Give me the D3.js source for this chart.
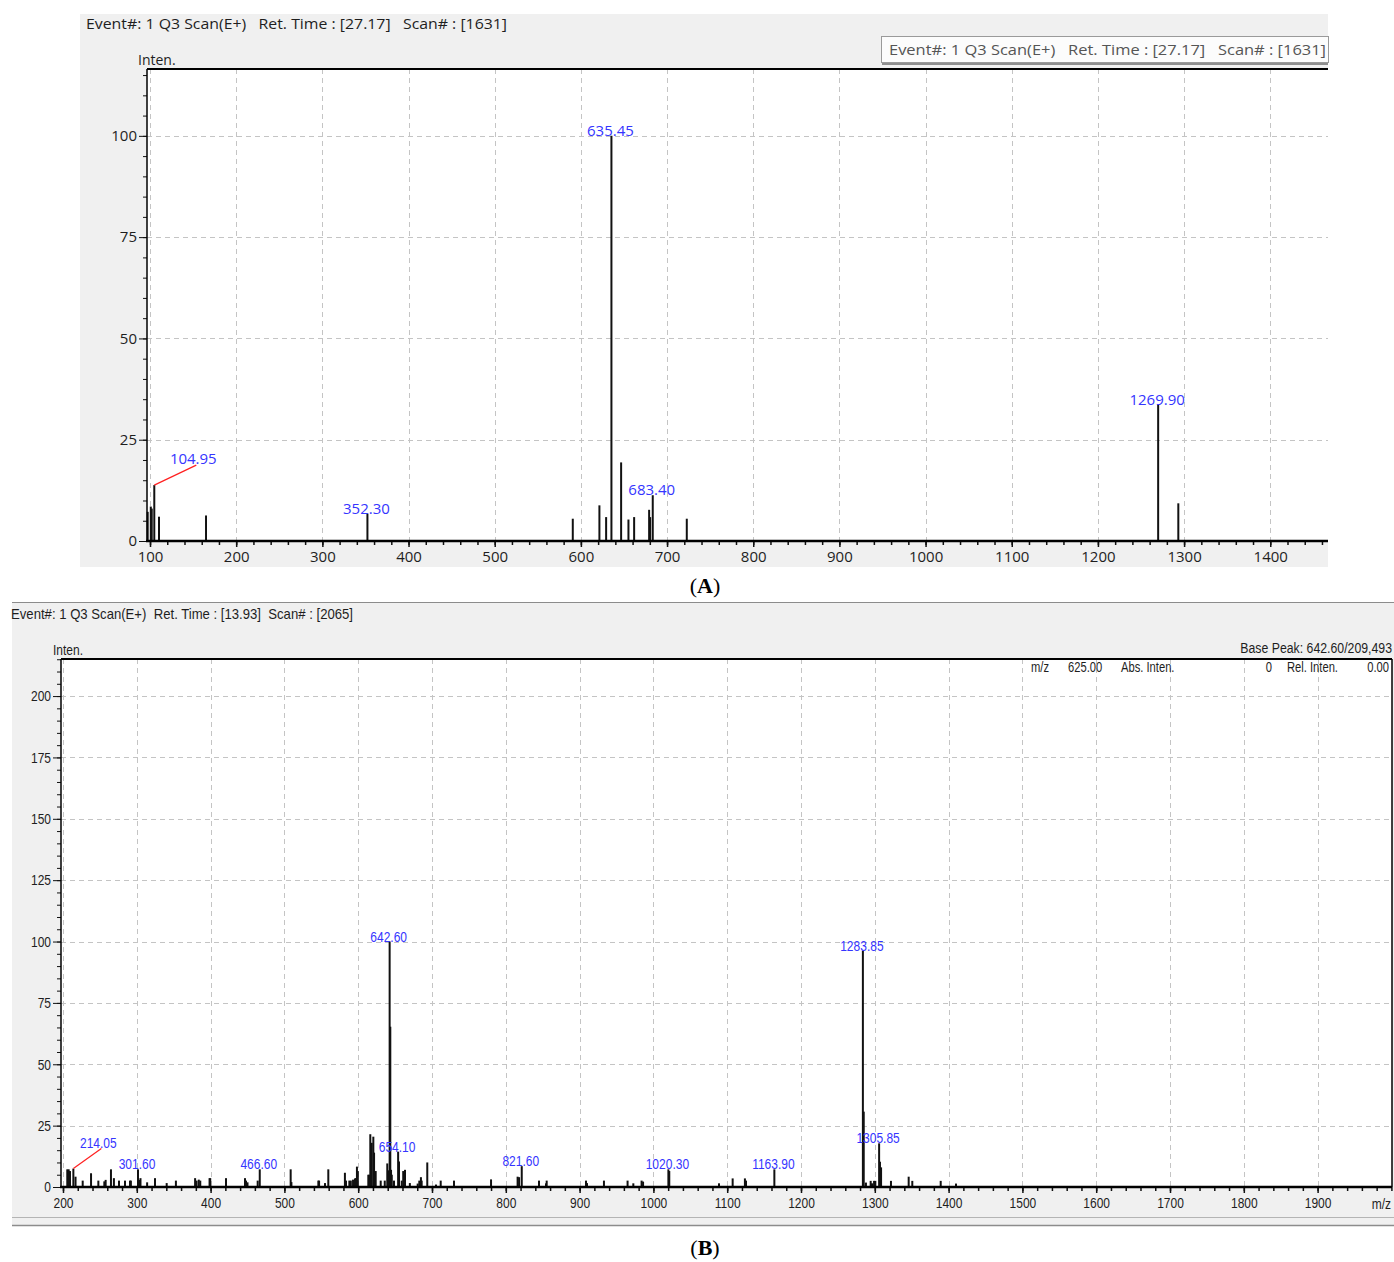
<!DOCTYPE html>
<html>
<head>
<meta charset="utf-8">
<script src="https://cdn.jsdelivr.net/npm/d3@7"></script>
<style>
  body { margin: 0; background: #fff; }
  svg { display: block; }
  svg text { white-space: pre; }
</style>
</head>
<body>
<svg id="chart" width="1394" height="1262"></svg>
<script>
// ---- panel A : spectrum at 27.17 min
const mzA = [97.3, 100.9, 102.0, 104.95, 110.4, 165.0, 352.30, 590.6, 621.5, 629.3, 635.45,
  646.7, 655.2, 661.8, 679.2, 680.4, 683.40, 722.9, 1269.90, 1293.3];
const intA = [7.2, 8.5, 8.0, 13.8, 6.0, 6.3, 6.7, 5.5, 8.8, 5.9, 100,
  19.4, 5.3, 5.9, 7.7, 5.9, 11.3, 5.5, 33.6, 9.3];
const labelsA = [104.95, 352.30, 635.45, 683.40, 1269.90];
const xTicksA = [100, 200, 300, 400, 500, 600, 700, 800, 900, 1000, 1100, 1200, 1300, 1400];
const yTicksA = [0, 25, 50, 75, 100];

// ---- panel B : spectrum at 13.93 min
const mzB = [205.8, 207.7, 209.5, 214.05, 217.0, 226.7, 238.0, 247.9, 256.0, 257.8, 265.0, 269.0,
  275.9, 284.0, 290.8, 292.0, 301.60, 303.0, 305.0, 314.0, 324.7, 340.5, 353.0, 379.0, 381.0,
  384.0, 386.0, 398.6, 399.5, 420.9, 446.6, 448.0, 450.0, 463.8, 466.60, 508.5, 509.5, 546.0,
  547.0, 555.0, 559.5, 582.0, 583.5, 588.0, 590.0, 593.0, 595.7, 597.0, 598.3, 599.5, 613.7,
  615.0, 616.4, 618.3, 620.5, 621.5, 623.7, 630.5, 636.0, 639.4, 640.5, 642.60, 643.5, 644.5,
  645.5, 648.5, 654.10, 655.3, 659.0, 661.0, 663.4, 670.0, 680.6, 682.8, 685.0, 686.0, 693.6,
  705.4, 711.8, 729.8, 780.0, 816.0, 818.0, 821.60, 845.0, 854.5, 855.4, 908.7, 910.0, 933.0,
  965.0, 972.8, 984.0, 986.0, 1020.30, 1021.5, 1088.9, 1107.4, 1124.0, 1125.5, 1163.90,
  1283.85, 1285.0, 1288.0, 1294.4, 1296.2, 1299.0, 1300.7, 1305.85, 1307.0, 1308.5, 1321.9,
  1345.9, 1350.8, 1389.3, 1410.0];
const intB = [7.2, 7.2, 6.5, 7.5, 4.2, 2.6, 5.6, 2.6, 2.3, 2.9, 7.2, 3.6,
  2.6, 2.6, 2.6, 2.6, 7.2, 2.9, 3.6, 1.9, 3.6, 1.6, 2.6, 3.6, 2.6,
  3.0, 2.6, 3.6, 3.6, 3.6, 3.6, 2.6, 1.9, 2.6, 7.2, 7.2, 2.0, 2.6,
  2.6, 1.6, 7.2, 5.8, 2.6, 2.6, 2.6, 3.0, 3.5, 3.6, 8.3, 6.5, 5.0,
  5.0, 21.5, 18.0, 20.5, 14.0, 6.5, 2.6, 2.6, 9.6, 6.8, 100, 65.3, 7.0,
  5.0, 2.6, 14.4, 10.4, 2.6, 6.5, 7.0, 1.6, 1.4, 2.6, 4.0, 2.6, 10.0,
  1.0, 2.6, 2.6, 3.1, 4.2, 4.0, 8.5, 2.6, 1.5, 2.6, 2.6, 1.6, 2.6,
  2.6, 1.5, 2.6, 2.2, 7.2, 6.5, 1.5, 3.5, 3.5, 2.6, 7.2,
  96.3, 30.7, 1.8, 2.5, 1.5, 2.5, 2.5, 17.8, 10.3, 8.0, 2.5,
  4.2, 2.5, 2.5, 1.4];
const labelsB = [214.05, 301.60, 466.60, 642.60, 654.10, 821.60, 1020.30, 1163.90, 1283.85, 1305.85];
const xTicksB = [200, 300, 400, 500, 600, 700, 800, 900, 1000, 1100, 1200, 1300, 1400, 1500,
  1600, 1700, 1800, 1900];
const yTicksB = [0, 25, 50, 75, 100, 125, 150, 175, 200];

const svg = d3.select('#chart');

function txt(g, x, y, s, o) {
  const t = g.append('text')
    .attr('transform', `translate(${x},${y}) scale(${o.sx || 1},1)`)
    .attr('text-anchor', o.anchor || 'start')
    .style('font-family', o.font)
    .style('font-size', o.size + 'px')
    .attr('fill', o.fill || '#1e1e1e')
    .text(s);
  if (o.len) t.attr('textLength', o.len).attr('lengthAdjust', 'spacingAndGlyphs');
  return t;
}

function panel(c) {
  const g = svg.append('g');
  const x = d3.scaleLinear().domain(c.xDom).range([c.left, c.right]);
  const y = d3.scaleLinear().domain(c.yDom).range([c.bottom, c.top]);
  const f = { font: c.font, size: c.size, sx: c.sx };

  // plot area
  g.append('rect').attr('x', c.left).attr('y', c.top)
    .attr('width', c.right - c.left).attr('height', c.bottom - c.top).attr('fill', '#fff');

  // dashed grid
  g.append('g').selectAll('line').data(c.xTicks).join('line')
    .attr('x1', d => Math.round(x(d)) + 0.5).attr('x2', d => Math.round(x(d)) + 0.5)
    .attr('y1', c.top).attr('y2', c.bottom)
    .attr('stroke', '#c4c4c4').attr('stroke-dasharray', '5,4');
  g.append('g').selectAll('line').data(c.yTicks.filter(d => d > 0)).join('line')
    .attr('x1', c.left).attr('x2', c.right)
    .attr('y1', d => Math.round(y(d)) + 0.5).attr('y2', d => Math.round(y(d)) + 0.5)
    .attr('stroke', '#c4c4c4').attr('stroke-dasharray', '5,4');

  // peaks
  g.append('g').selectAll('line').data(d3.zip(c.mz, c.inten)).join('line')
    .attr('x1', d => x(d[0])).attr('x2', d => x(d[0]))
    .attr('y1', c.bottom).attr('y2', d => y(d[1]))
    .attr('stroke', '#111').attr('stroke-width', c.bar);

  // x axis (major + minor)
  const xa = g.append('g').attr('transform', `translate(0,${c.bottom})`)
    .call(d3.axisBottom(x).tickValues(c.xTicks).tickSize(6).tickPadding(4).tickFormat(d3.format('d')));
  xa.call(a => a.select('.domain').remove());
  xa.selectAll('text').style('font-family', c.font).style('font-size', c.size + 'px')
    .attr('fill', '#1e1e1e').attr('transform', `scale(${c.sx},1)`);
  xa.selectAll('line').attr('stroke', '#111').attr('stroke-width', 1.5);
  g.append('g').attr('transform', `translate(0,${c.bottom})`)
    .call(d3.axisBottom(x).tickValues(d3.range(c.xTicks[0], c.xDom[1], 20)).tickSize(4).tickFormat(''))
    .call(a => a.select('.domain').remove())
    .selectAll('line').attr('stroke', '#111').attr('stroke-width', 1.5);

  // y axis (major + minor)
  const ya = g.append('g').attr('transform', `translate(${c.left},0)`)
    .call(d3.axisLeft(y).tickValues(c.yTicks).tickSize(8).tickPadding(2));
  ya.call(a => a.select('.domain').remove());
  ya.selectAll('text').style('font-family', c.font).style('font-size', c.size + 'px')
    .attr('fill', '#1e1e1e').attr('transform', `scale(${c.sx},1)`);
  ya.selectAll('text').attr('x', -10 / c.sx);
  ya.selectAll('line').attr('stroke', '#111');
  g.append('g').attr('transform', `translate(${c.left},0)`)
    .call(d3.axisLeft(y).tickValues(d3.range(0, c.yDom[1], 5)).tickSize(4).tickFormat(''))
    .call(a => a.select('.domain').remove())
    .selectAll('line').attr('stroke', '#111');

  // frame
  g.append('line').attr('x1', c.left - 1).attr('x2', c.right).attr('y1', c.bottom).attr('y2', c.bottom)
    .attr('stroke', '#000').attr('stroke-width', 2.5);
  g.append('line').attr('x1', c.left).attr('x2', c.left).attr('y1', c.top).attr('y2', c.bottom)
    .attr('stroke', '#000').attr('stroke-width', 1.5);
  g.append('line').attr('x1', c.left).attr('x2', c.right).attr('y1', c.top).attr('y2', c.top)
    .attr('stroke', '#000').attr('stroke-width', 2);
  if (c.rightFrame) {
    g.append('line').attr('x1', c.right).attr('x2', c.right).attr('y1', c.top).attr('y2', c.bottom)
      .attr('stroke', '#000').attr('stroke-width', 1.5);
  }

  // peak labels
  const lab = g.append('g');
  c.labels.forEach(m => {
    const i = c.mz.indexOf(m);
    const px = x(m), py = y(c.inten[i]);
    const off = c.leader[m];
    if (off) {
      lab.append('line').attr('x1', px).attr('y1', py).attr('x2', px + off[0]).attr('y2', py + off[1])
        .attr('stroke', '#ff2020').attr('stroke-width', 1.2);
      txt(lab, px + off[0] - c.size * 0.2, py + off[1] - 1, m.toFixed(2),
        Object.assign({}, f, { anchor: 'middle', fill: '#3535ff' }));
    } else {
      txt(lab, px - 1, py, m.toFixed(2), Object.assign({}, f, { anchor: 'middle', fill: '#3535ff' }));
    }
  });
  return { g, x, y };
}

// ---------- panel A
svg.append('rect').attr('x', 80).attr('y', 14).attr('width', 1248).attr('height', 553).attr('fill', '#f0f0f0');
const fA = { font: 'Open Sans', size: 15, sx: 1 };
txt(svg, 86, 29, 'Event#: 1 Q3 Scan(E+)   Ret. Time : [27.17]   Scan# : [1631]', Object.assign({ len: 421 }, fA));
txt(svg, 138, 65, 'Inten.', Object.assign({}, fA, { size: 14 }));

panel({
  left: 147, right: 1328, top: 69, bottom: 541,
  xDom: [96.5, 1467], yDom: [0, 116.5],
  xTicks: xTicksA, yTicks: yTicksA,
  mz: mzA, inten: intA, labels: labelsA,
  leader: { 104.95: [42, -20] },
  font: 'Open Sans', size: 15, sx: 1, bar: 2, rightFrame: false
});

// legend box of panel A
svg.append('rect').attr('x', 881.5).attr('y', 36.5).attr('width', 447).attr('height', 26)
  .attr('fill', '#fcfcfc').attr('stroke', '#9a9a9a');
svg.append('line').attr('x1', 882).attr('x2', 1328).attr('y1', 64).attr('y2', 64)
  .attr('stroke', '#6e6e6e').attr('stroke-width', 1.5);
txt(svg, 889, 55, 'Event#: 1 Q3 Scan(E+)   Ret. Time : [27.17]   Scan# : [1631]',
  Object.assign({}, fA, { fill: '#555', len: 437 }));

// ---------- panel B
svg.append('rect').attr('x', 12).attr('y', 602).attr('width', 1382).attr('height', 624).attr('fill', '#f0f0f0');
svg.append('line').attr('x1', 12).attr('x2', 1394).attr('y1', 602.5).attr('y2', 602.5).attr('stroke', '#8c8c8c');
svg.append('line').attr('x1', 12).attr('x2', 1394).attr('y1', 1217.5).attr('y2', 1217.5).attr('stroke', '#b4b4b4');
svg.append('line').attr('x1', 12).attr('x2', 1394).attr('y1', 1225.5).attr('y2', 1225.5).attr('stroke', '#8c8c8c').attr('stroke-width', 1.5);

const fB = { font: 'Liberation Sans', size: 15, sx: 0.8 };
txt(svg, 11, 619, 'Event#: 1 Q3 Scan(E+)  Ret. Time : [13.93]  Scan# : [2065]', Object.assign({}, fB, { sx: 1, len: 342 }));
txt(svg, 53, 655, 'Inten.', fB);
txt(svg, 1392, 653, 'Base Peak: 642.60/209,493', Object.assign({}, fB, { anchor: 'end', sx: 0.82 }));

panel({
  left: 61, right: 1392, top: 659, bottom: 1187,
  xDom: [197.3, 2000.8], yDom: [0, 215.1],
  xTicks: xTicksB, yTicks: yTicksB,
  mz: mzB, inten: intB, labels: labelsB,
  leader: { 214.05: [28, -20] },
  font: 'Liberation Sans', size: 15, sx: 0.8, bar: 2, rightFrame: true
});

// readout row + m/z axis title of panel B
const fB2 = Object.assign({}, fB, { size: 14 });
txt(svg, 1031, 672, 'm/z', fB2);
txt(svg, 1068, 672, '625.00', fB2);
txt(svg, 1121, 672, 'Abs. Inten.', fB2);
txt(svg, 1272, 672, '0', Object.assign({}, fB2, { anchor: 'end' }));
txt(svg, 1287, 672, 'Rel. Inten.', fB2);
txt(svg, 1389, 672, '0.00', Object.assign({}, fB2, { anchor: 'end' }));
txt(svg, 1391, 1209, 'm/z', Object.assign({}, fB, { anchor: 'end' }));

// ---------- captions
function caption(y, letter) {
  const t = svg.append('text').attr('x', 705).attr('y', y).attr('text-anchor', 'middle')
    .style('font-family', 'Liberation Serif').style('font-size', '22px').attr('fill', '#000');
  t.append('tspan').text('(');
  t.append('tspan').style('font-weight', 'bold').text(letter);
  t.append('tspan').text(')');
}
caption(593, 'A');
caption(1255, 'B');
</script>
</body>
</html>
